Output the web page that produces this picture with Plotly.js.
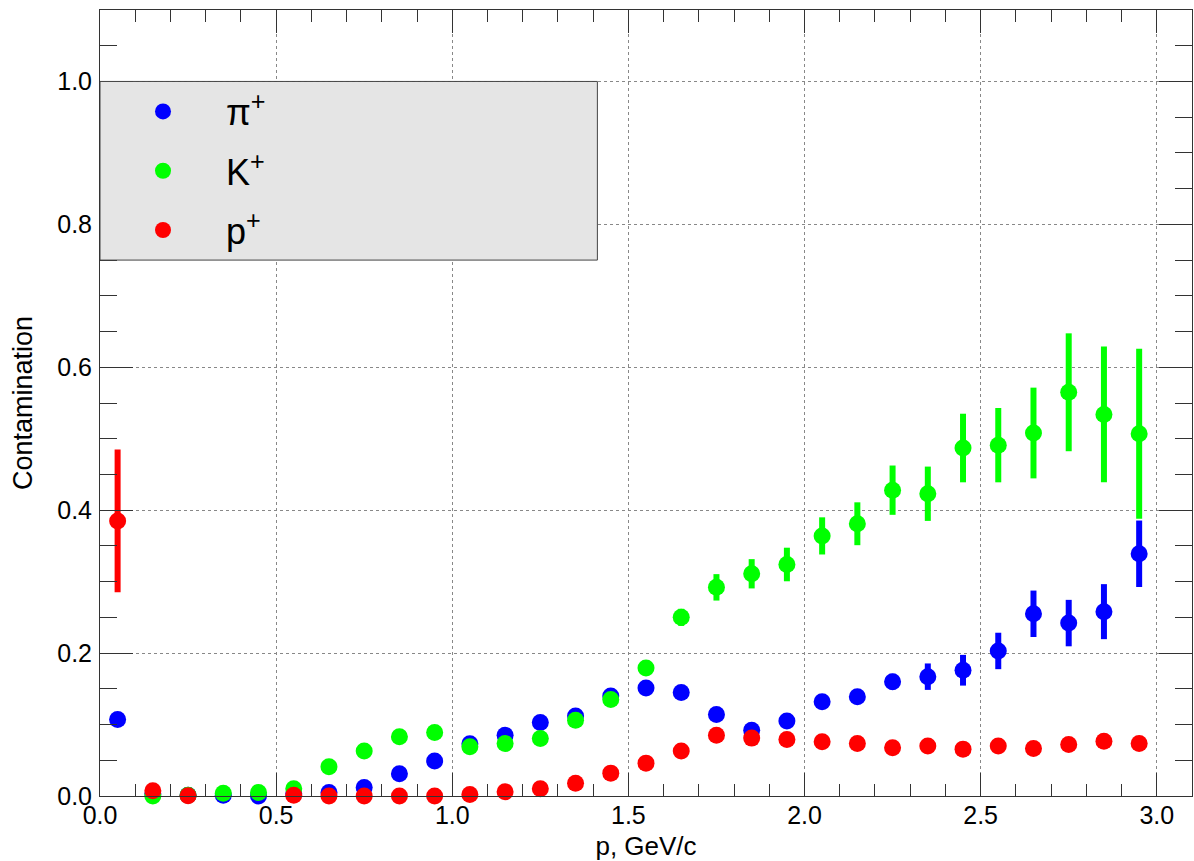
<!DOCTYPE html>
<html>
<head>
<meta charset="utf-8">
<script src="https://cdn.plot.ly/plotly-3.0.1.min.js"></script>
<style>html,body{margin:0;padding:0;background:#fff;}#plot{width:1194px;height:861px;}</style>
</head>
<body>
<div id="plot"></div>
<script>
// momentum bin centres (GeV/c)
var p = [0.05,0.15,0.25,0.35,0.45,0.55,0.65,0.75,0.85,0.95,
         1.05,1.15,1.25,1.35,1.45,1.55,1.65,1.75,1.85,1.95,
         2.05,2.15,2.25,2.35,2.45,2.55,2.65,2.75,2.85,2.95];

// pi+ contamination
var piVal = [0.107,0.003,0.001,0.001,0.000,0.003,0.005,0.012,0.031,0.049,
             0.073,0.085,0.103,0.112,0.140,0.151,0.145,0.114,0.092,0.105,
             0.132,0.139,0.160,0.167,0.176,0.203,0.255,0.242,0.258,0.339];
var piErr = [0.004,0.001,0.001,0.001,0.001,0.001,0.001,0.002,0.003,0.003,
             0.003,0.004,0.004,0.005,0.005,0.006,0.006,0.006,0.006,0.007,
             0.008,0.009,0.011,0.0185,0.0215,0.0255,0.0325,0.0325,0.0385,0.0465];

// K+ contamination
var kVal = [null,0.000,0.001,0.004,0.005,0.010,0.041,0.063,0.083,0.089,
            0.069,0.0735,0.0805,0.106,0.135,0.179,0.250,0.292,0.311,0.324,
            0.364,0.381,0.428,0.423,0.487,0.491,0.508,0.565,0.534,0.507];
var kErr = [0,0.001,0.001,0.001,0.001,0.002,0.003,0.003,0.004,0.004,
            0.004,0.004,0.005,0.005,0.006,0.007,0.012,0.0185,0.0205,0.0235,
            0.026,0.030,0.0345,0.038,0.048,0.052,0.0635,0.0825,0.095,0.119];

// p+ contamination
var prVal = [0.385,0.0074,0.0005,null,null,0.001,0.000,0.000,0.000,0.000,
             0.002,0.006,0.010,0.018,0.032,0.046,0.063,0.085,0.081,0.079,
             0.076,0.0735,0.0674,0.070,0.0656,0.070,0.0665,0.072,0.0767,0.0735];
var prErr = [0.100,0.002,0.001,0,0,0.001,0.001,0.001,0.001,0.001,
             0.001,0.001,0.002,0.002,0.003,0.003,0.004,0.004,0.004,0.004,
             0.004,0.004,0.004,0.004,0.004,0.004,0.004,0.004,0.004,0.004];

var names = ['π<sup>+</sup>', 'K<sup>+</sup>', 'p<sup>+</sup>'];
var colors = ['#0000ff', '#00ff00', '#ff0000'];

function series(i, y, e) {
  return {
    type: 'scatter', mode: 'markers', x: p, y: y, name: names[i],
    legendgroup: 'g' + i, cliponaxis: false,
    marker: {color: colors[i], size: 17, line: {width: 0}},
    error_y: {type: 'data', array: e, visible: true, color: colors[i], thickness: 6, width: 0}
  };
}

var data = [series(0, piVal, piErr), series(1, kVal, kErr), series(2, prVal, prErr)];

var axisCommon = {
  showline: true, linecolor: '#333', linewidth: 1, mirror: 'allticks',
  ticks: 'inside', tickcolor: '#333', tickwidth: 1,
  showgrid: true, gridcolor: '#888', griddash: 'dot', gridwidth: 1,
  zeroline: false,
  tickfont: {family: 'Liberation Sans, Arial, sans-serif', size: 25, color: '#000'}
};

var layout = {
  width: 1194, height: 861,
  margin: {l: 100, r: 2, t: 10, b: 65},
  paper_bgcolor: '#fff', plot_bgcolor: '#fff',
  font: {family: 'Liberation Sans, Arial, sans-serif', color: '#000'},
  showlegend: true,
  xaxis: Object.assign({}, axisCommon, {
    range: [0, 3.1], tickmode: 'linear', tick0: 0, dtick: 0.5, tickformat: '.1f',
    ticklen: 23,
    minor: {dtick: 0.1, tick0: 0, ticklen: 12, tickcolor: '#333', tickwidth: 1, ticks: 'inside', showgrid: false},
    ticklabelstandoff: -3,
    title: {text: 'p, GeV/c', font: {size: 26, color: '#000'}, standoff: 9}
  }),
  yaxis: Object.assign({}, axisCommon, {
    range: [0, 1.1], tickmode: 'linear', tick0: 0, dtick: 0.2, tickformat: '.1f',
    ticklen: 33,
    minor: {dtick: 0.05, tick0: 0, ticklen: 17, tickcolor: '#333', tickwidth: 1, ticks: 'inside', showgrid: false},
    ticklabelstandoff: 2,
    title: {text: 'Contamination', font: {size: 27, color: '#000'}, standoff: 16}
  }),
  legend: {
    x: 0, xanchor: 'left', y: 0.909, yanchor: 'top',
    bgcolor: 'rgba(0,0,0,0)', borderwidth: 0,
    itemwidth: 116, tracegroupgap: 9.5,
    font: {size: 36, color: '#000', family: 'Liberation Sans, Arial, sans-serif'}
  },
  shapes: [{
    type: 'rect', xref: 'x', yref: 'y', x0: 0, x1: 1.412, y0: 0.75, y1: 1.0,
    fillcolor: '#e5e5e5', line: {color: '#444', width: 1}, layer: 'above'
  }]
};

Plotly.newPlot('plot', data, layout, {displayModeBar: false, staticPlot: true});
</script>
</body>
</html>
